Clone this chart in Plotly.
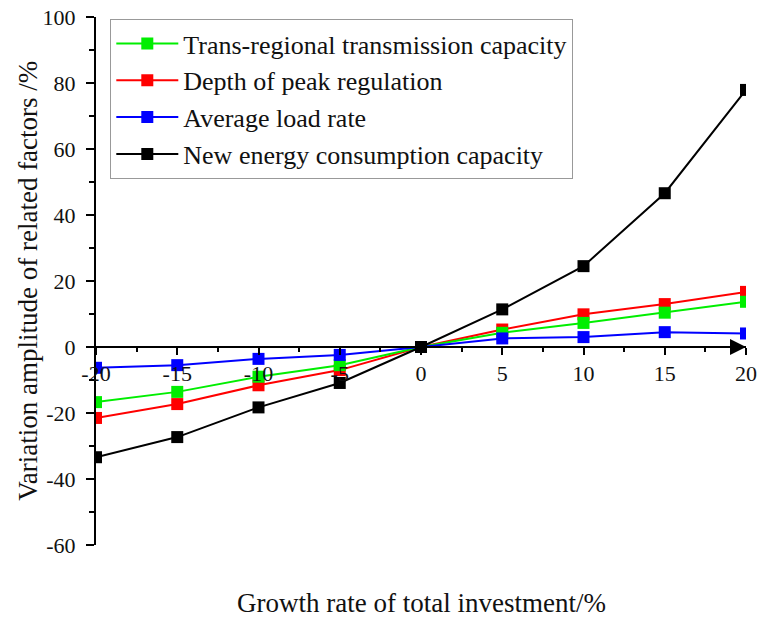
import plotly.graph_objects as go

# Growth rate of total investment (%)
growth = [-20, -15, -10, -5, 0, 5, 10, 15, 20]

# Variation amplitude of each related factor (%)
trans_regional = [-16.7, -13.6, -9.0, -5.5, 0, 4.3, 7.3, 10.4, 13.7]
peak_depth = [-21.5, -17.3, -11.6, -7.0, 0, 5.3, 9.9, 13.0, 16.7]
avg_load = [-6.3, -5.5, -3.6, -2.4, 0, 2.6, 3.0, 4.5, 4.1]
new_energy = [-33.4, -27.3, -18.3, -10.9, 0, 11.4, 24.5, 46.6, 77.9]

y_ticks = [-60, -40, -20, 0, 20, 40, 60, 80, 100]
x_ticks = [-20, -15, -10, -5, 0, 5, 10, 15, 20]

FONT = "Liberation Serif"

# (name, values, colour, legend position); drawing order keeps black on top
series = [
    ("Depth of peak regulation", peak_depth, "#ff0000", 2),
    ("Trans-regional transmission capacity", trans_regional, "#00ee00", 1),
    ("Average load rate", avg_load, "#0000ff", 3),
    ("New energy consumption capacity", new_energy, "#000000", 4),
]

fig = go.Figure()
for name, values, color, rank in series:
    fig.add_trace(go.Scatter(
        x=growth, y=values, name=name, mode="lines+markers",
        line=dict(color=color, width=2),
        marker=dict(symbol="square", size=12, color=color,
                    line=dict(width=0)),
        legendrank=rank,
    ))

fig.update_layout(
    width=761, height=617,
    margin=dict(l=96, r=15, t=17, b=72, autoexpand=False),
    plot_bgcolor="white", paper_bgcolor="white",
    font=dict(family=FONT, color="black"),
    showlegend=True,
    legend=dict(
        x=0.022, y=0.996, xanchor="left", yanchor="top",
        font=dict(family=FONT, size=26, color="#111"),
        bgcolor="white", bordercolor="#999", borderwidth=1,
        itemwidth=62, itemclick=False,
    ),
    xaxis=dict(
        range=[-20, 20], anchor="free", position=0.375, automargin=False,
        tickvals=x_ticks, ticktext=[str(v) for v in x_ticks],
        ticks="outside", ticklen=7, tickwidth=1.5, tickcolor="black",
        minor=dict(tickvals=[-17.5, -12.5, -7.5, -2.5, 2.5, 7.5, 12.5, 17.5],
                   ticks="outside", ticklen=4, tickwidth=1.5,
                   tickcolor="black", showgrid=False),
        showline=True, linecolor="black", linewidth=2,
        showgrid=False, zeroline=False,
        tickfont=dict(family=FONT, size=22, color="#111"),
        ticklabelstandoff=0,
    ),
    yaxis=dict(
        range=[-60, 100], automargin=False,
        tickvals=y_ticks, ticktext=[str(v) for v in y_ticks],
        ticks="outside", ticklen=8, tickwidth=1.5, tickcolor="black",
        minor=dict(dtick=10, tick0=0, ticks="outside", ticklen=5,
                   tickwidth=1.5, tickcolor="black", showgrid=False),
        showline=True, linecolor="black", linewidth=2,
        showgrid=False, zeroline=False,
        tickfont=dict(family=FONT, size=22, color="#111"),
        ticklabelstandoff=6,
    ),
)

# Arrow head at the positive end of the horizontal axis
fig.add_annotation(
    x=20, y=0, ax=18.6, ay=0, xref="x", yref="y", axref="x", ayref="y",
    text="", showarrow=True, arrowhead=2, arrowsize=1.6, arrowwidth=2,
    arrowcolor="black", standoff=0,
)

# Axis titles
fig.add_annotation(
    text="Growth rate of total investment/%", xref="paper", yref="paper",
    x=0.5, y=-0.11, xanchor="center", yanchor="middle", showarrow=False,
    font=dict(family=FONT, size=27, color="#111"),
)
fig.add_annotation(
    text="Variation amplitude of related factors /%", xref="paper",
    yref="paper", x=-0.105, y=0.5, xanchor="center", yanchor="middle",
    textangle=-90, showarrow=False,
    font=dict(family=FONT, size=27, color="#111"),
)

fig.write_html("out.html")
